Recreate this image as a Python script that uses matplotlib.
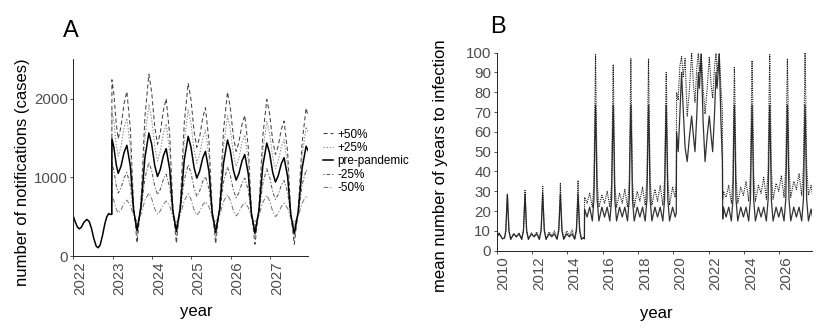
import matplotlib.pyplot as plt
from matplotlib.lines import Line2D

plt.rcParams['font.family'] = ['Liberation Sans', 'DejaVu Sans']
plt.rcParams['lines.scale_dashes'] = False

# ---- panel A: notifications ----
# 2022, shared by all scenarios
pre_years = [2022.0, 2022.05, 2022.1, 2022.15, 2022.2, 2022.27, 2022.34, 2022.4, 2022.46,
             2022.52, 2022.58, 2022.63, 2022.68, 2022.74, 2022.8, 2022.85, 2022.9, 2022.94]
pre_cases = [500, 430, 370, 345, 365, 430, 465, 440, 350,
             220, 125, 105, 140, 260, 410, 500, 540, 528]

# projections from the end of 2022
proj_years = [2022.975, 2022.98, 2023.03, 2023.09, 2023.14, 2023.21, 2023.29, 2023.36, 2023.45, 2023.53, 2023.62, 2023.72, 2023.82, 2023.92,
              2023.99, 2024.07, 2024.14, 2024.21, 2024.29, 2024.36, 2024.45, 2024.53, 2024.62, 2024.72, 2024.82, 2024.92,
              2024.99, 2025.07, 2025.14, 2025.21, 2025.29, 2025.36, 2025.45, 2025.53, 2025.62, 2025.72, 2025.82, 2025.92,
              2025.99, 2026.07, 2026.14, 2026.21, 2026.29, 2026.36, 2026.45, 2026.53, 2026.62, 2026.72, 2026.82, 2026.92,
              2026.99, 2027.07, 2027.14, 2027.21, 2027.29, 2027.36, 2027.45, 2027.53, 2027.62, 2027.72, 2027.82, 2027.92,
              2027.97]
cases_pre = [530, 1490, 1380, 1160, 1050, 1139, 1318, 1407, 1135, 592, 320, 631, 1252, 1563,
             1425, 1148, 1010, 1099, 1276, 1365, 1101, 574, 310, 613, 1218, 1521,
             1388, 1123, 990, 1075, 1245, 1330, 1072, 557, 300, 594, 1181, 1475,
             1347, 1092, 965, 1046, 1209, 1290, 1040, 540, 290, 577, 1150, 1436,
             1312, 1064, 940, 1018, 1173, 1250, 1009, 526, 285, 563, 1118, 1395,
             1340]
cases_p50 = [530, 2240, 2052, 1678, 1490, 1640, 1940, 2090, 1609, 646, 165, 701, 1774, 2310,
             2088, 1643, 1420, 1565, 1855, 2000, 1540, 620, 160, 669, 1688, 2197,
             1993, 1584, 1380, 1506, 1758, 1884, 1452, 587, 155, 637, 1601, 2083,
             1895, 1518, 1330, 1444, 1673, 1787, 1378, 559, 150, 610, 1530, 1990,
             1815, 1465, 1290, 1396, 1609, 1715, 1324, 541, 150, 583, 1448, 1880,
             1780]
cases_p25 = [530, 1850, 1705, 1415, 1270, 1390, 1630, 1750, 1373, 618, 240, 663, 1508, 1930,
             1750, 1390, 1210, 1328, 1563, 1680, 1318, 593, 230, 638, 1453, 1860,
             1690, 1350, 1180, 1285, 1495, 1600, 1256, 569, 225, 614, 1391, 1780,
             1620, 1300, 1140, 1240, 1440, 1540, 1210, 550, 220, 593, 1338, 1710,
             1560, 1260, 1110, 1203, 1388, 1480, 1164, 531, 215, 571, 1284, 1640,
             1580]
cases_m25 = [530, 1180, 1085, 895, 800, 865, 995, 1060, 890, 550, 380, 583, 988, 1190,
             1088, 883, 780, 845, 975, 1040, 874, 541, 375, 571, 964, 1160,
             1060, 860, 760, 823, 948, 1010, 850, 530, 370, 560, 940, 1130,
             1033, 838, 740, 803, 928, 990, 834, 521, 365, 551, 924, 1110,
             1013, 818, 720, 780, 900, 960, 810, 510, 360, 543, 908, 1090,
             1060]
cases_m50 = [530, 760, 706, 599, 545, 586, 669, 710, 643, 508, 440, 530, 710, 800,
             733, 598, 530, 573, 658, 700, 634, 501, 435, 524, 701, 790,
             723, 588, 520, 563, 648, 690, 625, 495, 430, 518, 693, 780,
             713, 578, 510, 553, 638, 680, 616, 489, 425, 511, 684, 770,
             703, 568, 500, 543, 628, 670, 608, 483, 420, 505, 675, 760,
             745]

a_xticks = [2022, 2023, 2024, 2025, 2026, 2027]
a_yticks = [0, 1000, 2000]

# ---- panel B: mean years to infection ----
b_years = [
    # 2010-2014
    2010.00, 2010.14, 2010.33, 2010.45, 2010.52, 2010.57, 2010.61,
    2010.65, 2010.70, 2010.80, 2010.97, 2011.12, 2011.27, 2011.42, 2011.52, 2011.57, 2011.61,
    2011.65, 2011.70, 2011.80, 2011.97, 2012.12, 2012.27, 2012.42, 2012.52, 2012.57, 2012.61,
    2012.65, 2012.70, 2012.80, 2012.97, 2013.12, 2013.27, 2013.42, 2013.52, 2013.57, 2013.61,
    2013.65, 2013.70, 2013.80, 2013.97, 2014.12, 2014.27, 2014.42, 2014.52, 2014.57, 2014.61,
    2014.65, 2014.70, 2014.80, 2014.90, 2014.97,
    # 2015-2020
    2014.98, 2015.12, 2015.27, 2015.42, 2015.51, 2015.56, 2015.60,
    2015.64, 2015.69, 2015.79, 2015.96, 2016.11, 2016.26, 2016.41, 2016.51, 2016.56, 2016.60,
    2016.64, 2016.69, 2016.79, 2016.96, 2017.11, 2017.26, 2017.41, 2017.51, 2017.56, 2017.60,
    2017.64, 2017.69, 2017.79, 2017.96, 2018.11, 2018.26, 2018.41, 2018.51, 2018.56, 2018.60,
    2018.64, 2018.69, 2018.79, 2018.96, 2019.11, 2019.26, 2019.41, 2019.51, 2019.56, 2019.60,
    2019.64, 2019.69, 2019.79, 2019.96, 2020.11, 2020.17,
    # pandemic
    2020.19, 2020.28, 2020.37, 2020.47, 2020.56, 2020.67, 2020.79, 2020.92, 2021.04, 2021.14,
    2021.23, 2021.33, 2021.42, 2021.48, 2021.58, 2021.69, 2021.80, 2021.92, 2022.04, 2022.14,
    2022.23, 2022.33, 2022.42, 2022.48, 2022.60, 2022.70, 2022.78,
    # after
    2022.80, 2022.84, 2022.99, 2023.14, 2023.29, 2023.38, 2023.42, 2023.46,
    2023.50, 2023.55, 2023.65, 2023.82, 2023.97, 2024.12, 2024.27, 2024.37, 2024.42, 2024.46,
    2024.50, 2024.55, 2024.65, 2024.82, 2024.97, 2025.12, 2025.27, 2025.37, 2025.42, 2025.46,
    2025.50, 2025.55, 2025.65, 2025.82, 2025.97, 2026.12, 2026.27, 2026.37, 2026.42, 2026.46,
    2026.50, 2026.55, 2026.65, 2026.82, 2026.97, 2027.12, 2027.27, 2027.37, 2027.42, 2027.46,
    2027.50, 2027.55, 2027.65, 2027.80, 2027.88,
]
b_solid = [
    6.5, 8.8, 6, 6.5, 10, 20, 28.5,
    20, 10, 5.8, 8.5, 7, 8.5, 5.8, 10, 20, 28.5,
    20, 10, 5.8, 8.5, 7, 8.5, 5.8, 10, 20, 28.5,
    20, 10, 5.8, 8.5, 7, 8.5, 5.8, 10, 20, 28.5,
    20, 10, 5.8, 8.5, 7, 8.5, 5.8, 10, 20, 28.5,
    20, 10, 5.8, 6.5, 6,
    21, 17, 22, 15, 26, 55, 73.5,
    55, 26, 15, 22, 17, 22, 15, 26, 55, 73.5,
    55, 26, 15, 22, 17, 22, 15, 26, 55, 73.5,
    55, 26, 15, 22, 17, 22, 15, 26, 55, 73.5,
    55, 26, 15, 22, 17, 22, 15, 26, 55, 73.5,
    55, 26, 15, 22, 17, 19,
    60, 50, 68, 90, 72, 52, 45, 58, 68, 58,
    50, 68, 90, 82, 99, 65, 45, 58, 68, 58,
    50, 68, 90, 82, 99, 65, 45,
    16, 22, 17, 22, 15, 26, 55, 73.5,
    55, 26, 15, 22, 17, 22, 15, 26, 55, 73.5,
    55, 26, 15, 22, 17, 22, 15, 26, 55, 73.5,
    55, 26, 15, 22, 17, 22, 15, 26, 55, 73.5,
    55, 26, 15, 22, 17, 22, 15, 26, 55, 73.5,
    55, 26, 15, 21, 17,
]
b_dotted = [
    6.5, 8.8, 6, 6.5, 10, 20, 28.5,
    20, 10, 5.8, 8.5, 7, 9, 5.8, 10.5, 21, 30.5,
    21, 10.5, 5.8, 9, 7.2, 9.5, 5.8, 11, 22, 32.5,
    22, 11, 5.8, 9.5, 7.5, 10, 6, 11.5, 23, 34,
    23, 11.5, 6, 10, 7.5, 10.5, 6, 12, 24, 35.5,
    24, 12, 6, 6.5, 6,
    27, 24, 29, 22, 34, 72, 99,
    72, 35, 22, 28, 24, 30, 22, 34, 70, 94,
    70, 34, 22, 29, 24, 31, 22, 35, 71, 97,
    71, 35, 22, 30, 25, 32, 23, 36, 71, 97,
    71, 36, 23, 31, 25, 33, 23, 36, 68, 90,
    68, 36, 23, 32, 27, 35,
    80, 76, 93, 98, 88, 97, 68, 82, 100, 84,
    75, 92, 100, 90, 100, 82, 69, 82, 98, 84,
    77, 92, 100, 90, 100, 82, 71,
    26, 30, 27, 33, 24, 37, 72, 93,
    72, 37, 24, 32, 28, 35, 25, 39, 74, 96,
    74, 39, 25, 33, 29, 37, 26, 41, 76, 99,
    76, 41, 26, 34, 30, 38, 27, 42, 75, 97,
    75, 42, 27, 35, 31, 39, 28, 43, 77, 100,
    77, 43, 28, 33, 28,
]
b_xticks = [2010, 2012, 2014, 2016, 2018, 2020, 2022, 2024, 2026]
b_yticks = [0, 10, 20, 30, 40, 50, 60, 70, 80, 90, 100]

tick_grey = '#4d4d4d'


def style_axes(ax):
    for s in ['top', 'right']:
        ax.spines[s].set_visible(False)
    for s in ['left', 'bottom']:
        ax.spines[s].set_linewidth(0.7)
        ax.spines[s].set_color('#222222')
    ax.tick_params(length=2.5, width=0.6, color='#333333', pad=1.5,
                   labelsize=10.8, labelcolor=tick_grey)
    for lab in ax.get_xticklabels():
        lab.set_rotation(90)
        lab.set_ha('left')


fig = plt.figure(figsize=(8.23, 3.28), dpi=100)

# panel A
ax1 = fig.add_axes([0.0892, 0.2195, 0.2851, 0.5997])
l50, = ax1.plot(proj_years, cases_p50, color='#444444', lw=0.75, dashes=(3, 2), label='+50%')
l25, = ax1.plot(proj_years, cases_p25, color='#8a8a8a', lw=0.75, dashes=(1, 1.2), label='+25%')
lm25, = ax1.plot(proj_years, cases_m25, color='#555555', lw=0.75, dashes=(0.8, 1.4, 2.6, 1.4), label='-25%')
lm50, = ax1.plot(proj_years, cases_m50, color='#7a7a7a', lw=0.75, dashes=(3.5, 1.5, 0.8, 1.5), label='-50%')
lpre, = ax1.plot(pre_years + proj_years, pre_cases + cases_pre, color='black', lw=1.1, label='pre-pandemic')
ax1.set_xlim(2022, 2027.97)
ax1.set_ylim(0, 2500)
ax1.set_xticks(a_xticks)
ax1.set_yticks(a_yticks)
style_axes(ax1)
ax1.set_xlabel('year', fontsize=12, va='center')
ax1.xaxis.set_label_coords(0.525, -0.28)
ax1.set_ylabel('number of notifications (cases)', fontsize=12, va='center')
ax1.yaxis.set_label_coords(-0.219, 0.427)

fig.legend(handles=[l50, l25, lpre, lm25, lm50], loc='upper left',
           bbox_to_anchor=(0.392, 0.608), frameon=False, fontsize=8.5,
           handlelength=0.85, handletextpad=0.4, labelspacing=0.12,
           borderpad=0, borderaxespad=0)

# panel B
ax2 = fig.add_axes([0.6034, 0.2357, 0.3836, 0.6037])
ax2.plot(b_years, b_solid, color='#333333', lw=0.9)
ax2.plot(b_years, b_dotted, color='#1a1a1a', lw=0.8, dashes=(0.8, 0.8))
ax2.set_xlim(2010, 2027.87)
ax2.set_ylim(0, 100)
ax2.set_xticks(b_xticks)
ax2.set_yticks(b_yticks)
style_axes(ax2)
ax2.set_xlabel('year', fontsize=12, va='center')
ax2.xaxis.set_label_coords(0.507, -0.315)
ax2.set_ylabel('mean number of years to infection', fontsize=12, va='center')
ax2.yaxis.set_label_coords(-0.179, 0.428)

fig.text(0.0762, 0.886, 'A', fontsize=17, va='baseline')
fig.text(0.5954, 0.8985, 'B', fontsize=17, va='baseline')

fig.savefig('out.png', dpi=100)
